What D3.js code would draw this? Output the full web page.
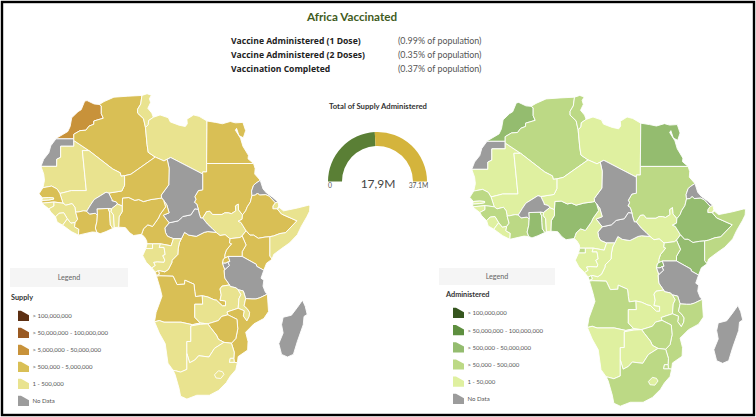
<!DOCTYPE html>
<html><head><meta charset="utf-8">
<script src="https://cdn.jsdelivr.net/npm/d3@7/dist/d3.min.js"></script>
<style>html,body{margin:0;padding:0;background:#fff}svg{display:block}text{font-family:Lato,"Open Sans",sans-serif}</style>
</head><body><svg id="c" width="756" height="417"></svg>
<script>
// ---------- data ----------
const titleText = "Africa Vaccinated";
const statLabels = ["Vaccine Administered (1 Dose)", "Vaccine Administered (2 Doses)", "Vaccination Completed"];
const statValues = ["(0.99% of population)", "(0.35% of population)", "(0.37% of population)"];
const gaugeTitle = "Total of Supply Administered";
const gaugeValue = 17.9, gaugeMax = 37.1;
const supplyLegend = ["> 100,000,000", "> 50,000,000 - 100,000,000", "> 5,000,000 - 50,000,000", "> 500,000 - 5,000,000", "1 - 500,000", "No Data"];
const adminLegend = ["> 100,000,000", "> 50,000,000 - 100,000,000", "> 500,000 - 50,000,000", "> 50,000 - 500,000", "1 - 50,000", "No Data"];
const supplyColors = ["#5c2f12", "#9a5a22", "#c8923a", "#d9bf55", "#e9e38f", "#9c9c9c"];
const adminColors = ["#36561f", "#5e8f3f", "#94bc6f", "#bcd985", "#dff0a0", "#9c9c9c"];

// class index into the colour lists: 0 darkest .. 4 lightest, 5 no data
const countries = ["Morocco","W.Sahara","Mauritania","Algeria","Tunisia","Libya","Egypt","Sudan","S.Sudan","Eritrea","Djibouti","Ethiopia","Somalia","Kenya","Uganda","Rwanda","Burundi","Tanzania","DRC","CAR","Chad","Cameroon","Nigeria","Niger","Mali","Senegal","Gambia","G.Bissau","Guinea","S.Leone","Liberia","IvoryCoast","Ghana","Burkina","Togo","Benin","EqGuinea","Gabon","Congo","Cabinda","Angola","Zambia","Malawi","Mozambique","Zimbabwe","Namibia","Botswana","S.Africa","Lesotho","Eswatini","Madagascar"];
const supplyClass = [2,5,4,3,4,4,3,3,4,5,4,3,4,3,3,3,5,5,3,5,5,3,3,3,4,3,4,4,4,4,4,3,3,5,4,4,4,4,4,3,3,4,4,3,3,4,4,4,4,4,5];
const adminClass  = [2,5,4,3,3,4,2,3,4,5,4,2,3,2,3,2,5,5,4,5,5,4,2,4,4,3,4,4,3,4,4,3,2,5,3,4,3,4,4,3,3,4,3,3,3,4,4,3,4,3,5];

// country outlines, longitude / latitude
const outlines = [
[[-2.2,35.1],[-3.5,35.2],[-5.3,35.9],[-5.9,35.8],[-6.8,34],[-7.6,33.6],[-9.2,32.3],[-9.6,30.4],[-10.2,29.3],[-12.9,27.9],[-13.2,27.67],[-8.67,27.67],[-8.67,28.7],[-7.1,29.5],[-5.6,29.6],[-4.8,30.5],[-3.6,30.9],[-3.6,31.6],[-1.2,32.2],[-1.7,33.2],[-1.7,34.8]],
[[-13.2,27.67],[-8.67,27.67],[-8.67,26],[-12,26],[-12,23.45],[-13,23],[-13,21.33],[-17,21.33],[-16.3,23],[-15,24.5],[-14.5,26.1]],
[[-17,21.33],[-13,21.33],[-13,23],[-12,23.45],[-12,26],[-8.67,26],[-8.67,27.3],[-4.83,25],[-6.5,25],[-5.5,15.5],[-9.3,15.5],[-10.9,15.1],[-12.2,14.8],[-12.9,15.9],[-14.3,16.6],[-16.5,16.2],[-16.1,18],[-16.3,19.5]],
[[-2.2,35.1],[-1,35.7],[1.5,36.6],[5,36.8],[8.6,36.95],[8.3,35.2],[7.5,34.1],[7.5,33.3],[9,32.1],[9.5,30.2],[9.9,26.4],[10.2,24.6],[11.97,23.5],[5.8,19.45],[4.2,19.1],[3.3,19],[3.1,19.8],[1.2,20.7],[-4.83,25],[-8.67,27.3],[-8.67,28.7],[-7.1,29.5],[-5.6,29.6],[-4.8,30.5],[-3.6,30.9],[-3.6,31.6],[-1.2,32.2],[-1.7,33.2],[-1.7,34.8]],
[[8.6,36.95],[9.9,37.3],[11,37],[10.5,36.3],[10.8,35.5],[10.1,34.3],[11.1,33.3],[11.5,32.4],[10.3,31.7],[10.2,30.8],[9.5,30.2],[9,32.1],[7.5,33.3],[7.5,34.1],[8.3,35.2]],
[[11.5,32.4],[13.2,32.9],[15.3,32.3],[15.8,31.4],[18,30.7],[19.6,30.4],[20.1,31],[20,32],[21.7,32.9],[23.1,32.6],[25.1,31.6],[25,22],[25,20],[24,20],[24,19.5],[15.9,23.4],[15,23],[14.2,22.6],[11.97,23.5],[10.2,24.6],[9.9,26.4],[9.5,30.2],[10.2,30.8],[10.3,31.7]],
[[25.1,31.6],[27.3,31.3],[29,31],[31,31.5],[32.3,31.2],[34.2,31.3],[34.9,29.5],[34.3,27.9],[33.2,28.4],[32.6,30],[32.3,29.6],[33.6,27.8],[34.2,26],[35.6,23.9],[35.5,23.1],[36.9,22],[25,22]],
[[25,22],[36.9,22],[37.3,20.8],[37.2,19.5],[38.6,18],[37.5,17.3],[36.9,16.8],[36.4,15.4],[36.5,14.3],[36.1,12.7],[35.3,11.5],[34.9,10.5],[34.1,9.5],[33.1,10.7],[33,12.2],[32.3,11.7],[32.4,10.5],[31.3,9.8],[30.5,10],[29.6,10],[28.9,9.6],[26.5,9.6],[25.8,10.4],[25,10.3],[24,8.7],[23.5,8.7],[23.1,9.9],[22.9,10.9],[22.5,12.2],[21.9,12.6],[22.3,13.4],[22,14],[22.9,15.5],[24,15.7],[24,19.5],[24,20],[25,20]],
[[34.1,9.5],[34,8.4],[33,7.9],[33.7,7.6],[35,5.5],[34,4.2],[33.5,3.8],[30.9,3.5],[29.7,4.5],[28.4,4.3],[27.4,5.1],[26.4,6.1],[25.2,7.2],[24,8.7],[25,10.3],[25.8,10.4],[26.5,9.6],[28.9,9.6],[29.6,10],[30.5,10],[31.3,9.8],[32.4,10.5],[32.3,11.7],[33,12.2],[33.1,10.7]],
[[38.6,18],[39.3,15.9],[40.2,14.9],[41.7,13.9],[43.1,12.7],[42.4,12.5],[40.9,14.1],[40,14.5],[38.4,14.4],[37.9,14.9],[37.4,14.4],[36.5,14.3],[36.4,15.4],[36.9,16.8],[37.5,17.3]],
[[43.1,12.7],[43.3,11.7],[42.9,11],[41.8,11],[41.8,11.7],[42.4,12.5]],
[[36.5,14.3],[37.4,14.4],[37.9,14.9],[38.4,14.4],[40,14.5],[40.9,14.1],[42.4,12.5],[41.8,11.7],[41.8,11],[42.9,11],[44,9.7],[47.9,8],[45,5],[43.6,4.8],[42,4.2],[41,4],[39.8,3.9],[38.1,3.6],[36.9,4.4],[36,4.4],[35,5.5],[33.7,7.6],[33,7.9],[34,8.4],[34.1,9.5],[34.9,10.5],[35.3,11.5],[36.1,12.7]],
[[42.9,11],[43.5,11.3],[44.5,10.5],[46,10.8],[48,11.2],[50.8,11.9],[51.2,11.8],[51.1,10.4],[50.4,9],[49,6.6],[48,4.5],[46,2.4],[44,1],[42,-0.5],[41.6,-1.7],[41,-0.9],[41,4],[42,4.2],[43.6,4.8],[45,5],[47.9,8],[44,9.7]],
[[41,4],[41,-0.9],[41.6,-1.7],[40.2,-2.7],[39.5,-4.5],[37.7,-3.5],[37.6,-3],[34,-1],[34,0.2],[35,1.9],[34,4.2],[35,5.5],[36,4.4],[36.9,4.4],[38.1,3.6],[39.8,3.9]],
[[30.9,3.5],[33.5,3.8],[34,4.2],[35,1.9],[34,0.2],[34,-1],[30.5,-1],[29.6,-1.4],[29.6,-0.6],[30,0.6],[31.3,2.2],[30.8,2.4]],
[[30.5,-1],[30.9,-2.3],[30.4,-2.4],[29.9,-2.7],[29,-2.7],[29.2,-1.7],[29.6,-1.4]],
[[29,-2.7],[29.9,-2.7],[30.4,-2.4],[30.8,-3.3],[29.6,-4.4],[29.2,-3.3]],
[[30.5,-1],[34,-1],[37.6,-3],[37.7,-3.5],[39.5,-4.5],[38.8,-6.5],[39.5,-7],[39.3,-8.5],[39.9,-10],[40.4,-10.5],[38.5,-11.4],[37.5,-11.7],[36.5,-11.7],[34.9,-11.6],[34.3,-9.7],[33,-9.4],[32.4,-8.9],[31,-8.6],[30.8,-8.2],[29.6,-6.5],[29.4,-4.5],[29.6,-4.4],[30.8,-3.3],[30.4,-2.4],[30.9,-2.3]],
[[18.6,3.5],[19.4,5.1],[20.5,4.4],[22.4,4.1],[24.4,5.1],[25.3,5.3],[27.4,5.1],[28.4,4.3],[29.7,4.5],[30.9,3.5],[30.8,2.4],[31.3,2.2],[30,0.6],[29.6,-0.6],[29.6,-1.4],[29.2,-1.7],[29,-2.7],[29.2,-3.3],[29.6,-4.4],[29.4,-4.5],[29.6,-6.5],[30.8,-8.2],[28.9,-8.5],[28.4,-9.2],[28.7,-10.7],[28.4,-12],[29.8,-12.2],[29.8,-13.4],[29,-13.4],[27.5,-12],[26.9,-11.9],[25.3,-11.2],[23.9,-10.9],[22.2,-11.1],[22,-9.8],[21.8,-8],[19.5,-7],[19.4,-8],[17.5,-8.1],[16.5,-6],[13,-5.9],[12.3,-6],[12.3,-5.8],[13,-5.5],[12.8,-4.6],[13.2,-4.6],[14.4,-4.9],[15.3,-4.3],[16.2,-2.5],[16.2,-2],[17.7,-0.5],[17.8,1],[18.1,2.5]],
[[27.4,5.1],[25.3,5.3],[24.4,5.1],[22.4,4.1],[20.5,4.4],[19.4,5.1],[18.6,3.5],[16.6,3.5],[15.1,4.1],[14.6,5],[14.4,6.2],[15.5,7.5],[17.8,8],[18.9,9],[19,9.1],[21,9.5],[22,11],[22.9,10.9],[23.1,9.9],[23.5,8.7],[24,8.7],[25.2,7.2],[26.4,6.1]],
[[15.9,23.4],[24,19.5],[24,15.7],[22.9,15.5],[22,14],[22.3,13.4],[21.9,12.6],[22.5,12.2],[22.9,10.9],[22,11],[21,9.5],[19,9.1],[18.9,9],[17.8,8],[15.5,7.5],[14,9.4],[15.5,10],[14.9,12],[14.1,13.1],[13.6,13.7],[13.5,14.4],[15.4,16.9],[15.5,20.9],[15,23]],
[[8.5,4.6],[9.2,4],[9.8,3],[9.9,2.2],[11.3,2.2],[13.3,2.2],[16,1.7],[16.6,3.5],[15.1,4.1],[14.6,5],[14.4,6.2],[15.5,7.5],[14,9.4],[15.5,10],[14.9,12],[14.1,13.1],[14.6,11.5],[13.2,9.6],[12.8,8.7],[11.3,6.6],[10.1,7],[9,6],[8.8,5.4]],
[[2.7,6.4],[4.4,6.3],[5.5,5],[6.5,4.3],[8.5,4.6],[8.8,5.4],[9,6],[10.1,7],[11.3,6.6],[12.8,8.7],[13.2,9.6],[14.6,11.5],[14.1,13.1],[13.6,13.7],[13.1,13.6],[10.9,13.3],[9,12.8],[7.8,13.3],[6.8,13.1],[5.3,13.8],[3.7,13.7],[3.6,11.7],[3.6,10.3],[2.8,9]],
[[5.8,19.45],[11.97,23.5],[14.2,22.6],[15,23],[15.5,20.9],[15.4,16.9],[13.5,14.4],[13.6,13.7],[13.1,13.6],[10.9,13.3],[9,12.8],[7.8,13.3],[6.8,13.1],[5.3,13.8],[3.7,13.7],[3.6,11.7],[2.4,12.2],[2.1,12.7],[1,13],[0.99,13.3],[0.2,14.9],[3.5,15.4],[4.2,16.8],[4.2,19.1]],
[[-4.83,25],[1.2,20.7],[3.1,19.8],[3.3,19],[4.2,19.1],[4.2,16.8],[3.5,15.4],[0.2,14.9],[-0.5,15.1],[-2,14.2],[-3,13.6],[-3.5,13.3],[-4.4,12],[-5.4,10.4],[-6.2,10.5],[-7.6,10.2],[-8.2,10.2],[-8.4,11.4],[-9.1,12.3],[-10.7,11.9],[-11.4,12.4],[-12.2,14.8],[-10.9,15.1],[-9.3,15.5],[-5.5,15.5],[-6.5,25]],
[[-16.5,16.2],[-14.3,16.6],[-12.9,15.9],[-12.2,14.8],[-11.4,12.4],[-13.7,12.7],[-16.7,12.4],[-16.8,13.1],[-15,13.2],[-13.8,13.4],[-13.8,13.7],[-15,13.8],[-16.6,13.7],[-17.5,14.7]],
[[-16.8,13.1],[-15,13.2],[-13.8,13.4],[-13.8,13.7],[-15,13.8],[-16.6,13.7]],
[[-16.7,12.4],[-13.7,12.7],[-13.7,11.7],[-15,11],[-16.3,12]],
[[-13.7,12.7],[-11.4,12.4],[-10.7,11.9],[-9.1,12.3],[-8.4,11.4],[-8.2,10.2],[-7.7,8.4],[-8.3,7.6],[-9.4,7.4],[-10.3,8.5],[-11.2,10],[-12.4,9.9],[-13.3,9],[-14.5,10.2],[-15,11],[-13.7,11.7]],
[[-13.3,9],[-12.4,9.9],[-11.2,10],[-10.3,8.5],[-11.5,6.9],[-12.9,7.7]],
[[-11.5,6.9],[-10.3,8.5],[-9.4,7.4],[-8.3,7.6],[-8.5,6.5],[-7.4,5.9],[-7.5,4.4],[-9.3,5.3]],
[[-8.2,10.2],[-7.6,10.2],[-6.2,10.5],[-5.4,10.4],[-4.7,9.7],[-3.2,9.9],[-2.7,9.4],[-2.8,7.9],[-3.2,6.2],[-2.8,5.1],[-4,5.2],[-7.5,4.4],[-7.4,5.9],[-8.5,6.5],[-8.3,7.6],[-7.7,8.4]],
[[-2.8,11],[0,11.1],[0.4,10.2],[0.5,8.5],[0.6,7],[1.2,6.1],[-0.5,5.3],[-2,4.75],[-2.8,5.1],[-3.2,6.2],[-2.8,7.9],[-2.7,9.4]],
[[-5.4,10.4],[-4.4,12],[-3.5,13.3],[-3,13.6],[-2,14.2],[-0.5,15.1],[0.2,14.9],[0.99,13.3],[1,13],[2.1,12.7],[2.4,12.2],[0.9,11],[0,11.1],[-2.8,11],[-2.7,9.4],[-3.2,9.9],[-4.7,9.7]],
[[0,11.1],[0.9,11],[0.8,10.3],[1.4,9.5],[1.6,6.3],[1.2,6.1],[0.6,7],[0.5,8.5],[0.4,10.2]],
[[0.9,11],[2.4,12.2],[3.6,11.7],[3.6,10.3],[2.8,9],[2.7,6.4],[1.6,6.3],[1.4,9.5],[0.8,10.3]],
[[9.9,2.2],[11.3,2.2],[11.3,1],[9.6,1]],
[[9.6,1],[11.3,1],[11.3,2.2],[13.3,2.2],[13,1.3],[14.2,1.3],[14.5,-0.5],[13.9,-0.8],[14.4,-1.9],[14.2,-2.5],[12.5,-2.4],[11.6,-2.5],[12,-3.3],[11.1,-3.9],[9.7,-2.5],[8.8,-0.8]],
[[13.3,2.2],[16,1.7],[16.6,3.5],[18.6,3.5],[18.1,2.5],[17.8,1],[17.7,-0.5],[16.2,-2],[16.2,-2.5],[15.3,-4.3],[14.4,-4.9],[13.2,-4.6],[12.8,-4.6],[12,-5],[11.1,-3.9],[12,-3.3],[11.6,-2.5],[12.5,-2.4],[14.2,-2.5],[14.4,-1.9],[13.9,-0.8],[14.5,-0.5],[14.2,1.3],[13,1.3]],
[[12,-5],[12.8,-4.6],[13,-5.5],[12.3,-5.8]],
[[12.3,-6],[13,-5.9],[16.5,-6],[17.5,-8.1],[19.4,-8],[19.5,-7],[21.8,-8],[22,-9.8],[22.2,-11.1],[23.9,-10.9],[24,-13],[22,-13],[22,-16.2],[23.4,-17.6],[21.4,-18],[18.5,-17.4],[14.2,-17.4],[13,-17],[11.8,-17.3],[12.2,-15],[13.7,-11],[13.2,-9]],
[[23.9,-10.9],[25.3,-11.2],[26.9,-11.9],[27.5,-12],[29,-13.4],[29.8,-13.4],[29.8,-12.2],[28.4,-12],[28.7,-10.7],[28.4,-9.2],[28.9,-8.5],[30.8,-8.2],[31,-8.6],[32.4,-8.9],[33,-9.4],[33.7,-10.6],[33.2,-11.6],[33,-14],[30.2,-14.9],[30.4,-15.6],[28.8,-16],[28,-17],[25.3,-17.8],[23.4,-17.6],[22,-16.2],[22,-13],[24,-13]],
[[33,-9.4],[34.3,-9.7],[34.9,-11.6],[34.5,-13.4],[35.3,-14.1],[35.9,-15],[35.8,-16],[35.2,-17.1],[34.3,-15.9],[34.5,-14.6],[33,-14],[33.2,-11.6],[33.7,-10.6]],
[[34.9,-11.6],[36.5,-11.7],[37.5,-11.7],[38.5,-11.4],[40.4,-10.5],[40.7,-14.8],[39.5,-16.5],[37,-17.8],[34.9,-19.8],[35.5,-22],[35.4,-24],[33,-25.5],[32.8,-26.9],[32,-26.8],[31.9,-25.9],[32,-24.5],[31.3,-22.4],[32.4,-21.3],[32.9,-19],[32.7,-16.7],[30.4,-15.6],[30.2,-14.9],[33,-14],[34.5,-14.6],[34.3,-15.9],[35.2,-17.1],[35.8,-16],[35.9,-15],[35.3,-14.1],[34.5,-13.4]],
[[25.3,-17.8],[28,-17],[28.8,-16],[30.4,-15.6],[32.7,-16.7],[32.9,-19],[32.4,-21.3],[31.3,-22.4],[29.4,-22.2],[28,-21.5],[27.5,-20.5],[26,-18.7]],
[[11.8,-17.3],[13,-17],[14.2,-17.4],[18.5,-17.4],[21.4,-18],[23.4,-17.6],[25.3,-17.8],[23.4,-17.9],[21,-18.3],[21,-22],[20,-22],[20,-28.4],[18.4,-29],[17.1,-28.7],[16.5,-28.6],[15.2,-27],[14.5,-22.5],[13,-20]],
[[21,-18.3],[23.4,-17.9],[25.3,-17.8],[26,-18.7],[27.5,-20.5],[28,-21.5],[29.4,-22.2],[27,-23.6],[25.6,-25.6],[23,-25.3],[22,-26.3],[20.7,-26.9],[20,-24.8],[20,-22],[21,-22]],
[[16.5,-28.6],[17.1,-28.7],[18.4,-29],[20,-28.4],[20,-24.8],[20.7,-26.9],[22,-26.3],[23,-25.3],[25.6,-25.6],[27,-23.6],[29.4,-22.2],[31.3,-22.4],[32,-24.5],[31.9,-25.9],[31,-25.9],[30.8,-26.8],[32,-26.8],[32.8,-26.9],[32.4,-28.5],[31,-29.9],[30,-31.3],[28,-33],[25.7,-34],[22.5,-34],[20,-34.8],[18.4,-34.2],[18,-32.5],[17,-29.5]],
[[28,-28.7],[29,-28.9],[29.4,-29.5],[28.6,-30.4],[27.4,-30.3],[27,-29.6]],
[[31,-25.9],[31.9,-25.9],[32,-26.8],[30.8,-26.8]],
[[49.3,-12],[50,-13.5],[50.5,-15.5],[49.7,-16],[49.5,-18],[48,-22],[47,-25],[45.5,-25.6],[44,-25],[43.3,-22.5],[44.4,-20],[44,-18],[44.4,-16.2],[46.5,-15.7],[48,-13.8]]
];

// ---------- drawing ----------
const svg = d3.select("#c");
svg.append("rect").attr("x",2).attr("y",2).attr("width",752).attr("height",413)
  .attr("fill","#fff").attr("stroke","#000").attr("stroke-width",2.4);

const line = d3.line().curve(d3.curveLinearClosed);
function drawMap(cfg){
  const proj = d3.geoMercator().scale(cfg.scale).translate(cfg.translate);
  const g = svg.append("g");
  g.selectAll("path").data(outlines).join("path")
    .attr("d", o => line(o.map(p => proj(p))))
    .attr("fill", (o,i) => cfg.colors[cfg.classes[i]])
    .attr("stroke","#fff").attr("stroke-width",0.9).attr("stroke-linejoin","round");
}
function drawLegend(cfg){
  const g = svg.append("g");
  g.append("rect").attr("x",cfg.box[0]).attr("y",cfg.box[1]).attr("width",cfg.box[2]).attr("height",cfg.box[3]).attr("fill","#f5f5f5");
  g.append("text").attr("x",cfg.box[0]+cfg.box[2]/2).attr("y",cfg.box[1]+cfg.box[3]/2+2.5).attr("text-anchor","middle")
    .attr("font-size",7.2).attr("fill","#666").text("Legend");
  g.append("text").attr("x",cfg.titleX).attr("y",cfg.titleY).attr("font-size",7.3).attr("font-weight",700).attr("fill","#333").text(cfg.title);
  const y = d3.scalePoint().domain(d3.range(cfg.labels.length)).range(cfg.rows);
  const row = g.selectAll("g.r").data(cfg.labels).join("g").attr("class","r")
    .attr("transform",(d,i)=>`translate(${cfg.swatchX},${y(i)})`);
  row.append("path").attr("d",d3.line()([[0,-5.2],[3,-5.2],[11,-0.8],[11,5],[0,5]])).attr("fill",(d,i)=>cfg.colors[i]);
  row.append("text").attr("x",14.5).attr("y",2.3).attr("font-size",6.05).attr("fill","#555").text(d=>d);
}

drawMap({scale:226, translate:[108,252.5], colors:supplyColors, classes:supplyClass});
drawMap({scale:230, translate:[540,257], colors:adminColors, classes:adminClass});
drawLegend({box:[10,268,118,19], title:"Supply", titleX:11, titleY:300, swatchX:18, rows:[316,401], colors:supplyColors, labels:supplyLegend});
drawLegend({box:[439,268,116,17], title:"Administered", titleX:446, titleY:297, swatchX:453, rows:[313,399], colors:adminColors, labels:adminLegend});

// header
svg.append("text").attr("x",352).attr("y",21).attr("text-anchor","middle").attr("font-size",11.7).attr("font-weight",700).attr("fill","#3f5c22").text(titleText);
const rowY = d3.scalePoint().domain(d3.range(statLabels.length)).range([44,72]);
svg.selectAll("text.sl").data(statLabels).join("text").attr("class","sl").attr("x",231).attr("y",(d,i)=>rowY(i))
  .attr("font-size",8.6).attr("font-weight",700).attr("fill","#222").style("font-family","'Open Sans',sans-serif").text(d=>d);
svg.selectAll("text.sv").data(statValues).join("text").attr("class","sv").attr("x",398).attr("y",(d,i)=>rowY(i))
  .attr("font-size",8.9).attr("fill","#555").text(d=>d);

// gauge
svg.append("text").attr("x",378).attr("y",109).attr("text-anchor","middle").attr("font-size",7.7).attr("font-weight",700).attr("fill","#333").text(gaugeTitle);
const angle = d3.scaleLinear().domain([0,gaugeMax]).range([-Math.PI/2,Math.PI/2]);
const arc = d3.arc().innerRadius(35.5).outerRadius(49.5);
const gauge = svg.append("g").attr("transform","translate(377.5,181.5)");
gauge.append("path").attr("d",arc({startAngle:angle(0),endAngle:angle(gaugeValue)})).attr("fill","#5a7f35");
gauge.append("path").attr("d",arc({startAngle:angle(gaugeValue),endAngle:angle(gaugeMax)})).attr("fill","#d4b43c");
svg.append("text").attr("x",378).attr("y",187.5).attr("text-anchor","middle").attr("font-size",12).attr("font-weight",400).attr("fill","#444").text("17,9M");
svg.append("text").attr("x",330).attr("y",188).attr("text-anchor","middle").attr("font-size",6.8).attr("fill","#555").text("0");
svg.append("text").attr("x",418.5).attr("y",188).attr("text-anchor","middle").attr("font-size",6.8).attr("fill","#555").text("37.1M");
</script></body></html>
